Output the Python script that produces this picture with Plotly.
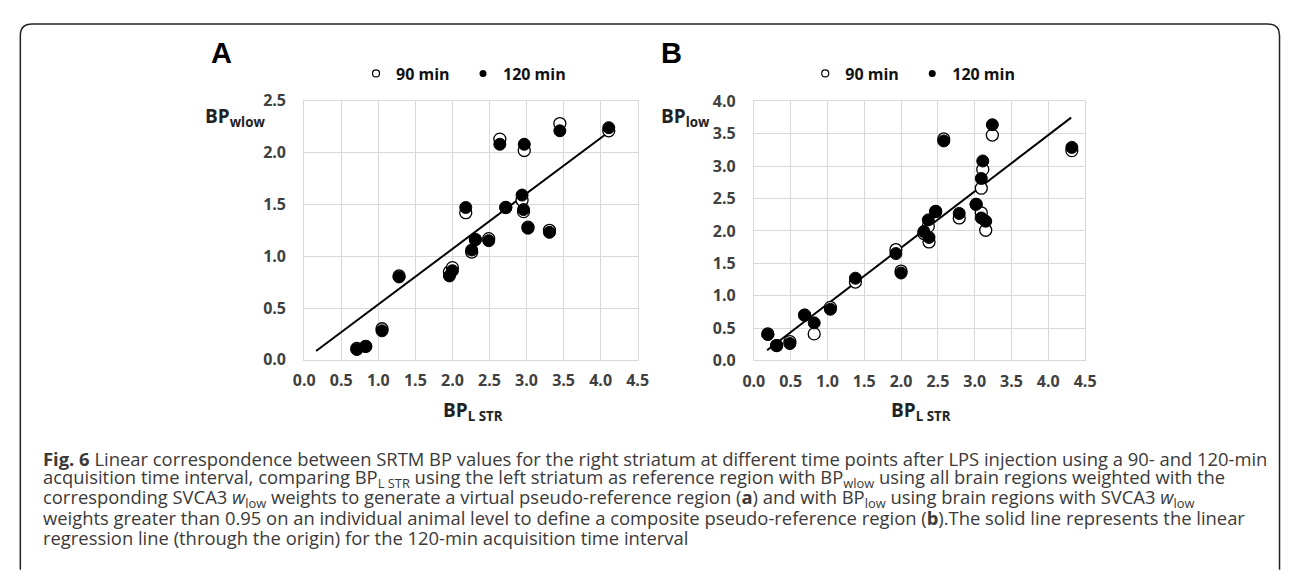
import numpy as np
import plotly.graph_objects as go

W, H = 1292, 576

# ---------------- data ----------------
# Panel A: BP_L STR vs BP_wlow
a_x = [0.71, 0.83, 1.05, 1.28, 1.96, 2.00, 2.18, 2.26, 2.31, 2.49,
       2.64, 2.72, 2.94, 2.96, 2.97, 3.02, 3.31, 3.45, 4.11]
a_y90 = [0.11, 0.13, 0.30, 0.81, 0.85, 0.89, 1.42, 1.04, 1.16, 1.17,
         2.13, 1.47, 1.54, 1.43, 2.02, 1.28, 1.25, 2.28, 2.21]
a_y120 = [0.10, 0.13, 0.28, 0.80, 0.81, 0.86, 1.47, 1.06, 1.16, 1.15,
          2.08, 1.47, 1.59, 1.45, 2.08, 1.27, 1.23, 2.21, 2.24]
a_slope = 0.535
a_line_x = [0.16, 4.11]

# Panel B: BP_L STR vs BP_low
b_x = [0.19, 0.31, 0.49, 0.69, 0.82, 1.04, 1.38, 1.93, 2.00, 2.31, 2.37,
       2.38, 2.47, 2.58, 2.79, 3.02, 3.09, 3.11, 3.09, 3.15, 3.24, 4.32]
b_y90 = [0.41, 0.23, 0.29, 0.70, 0.41, 0.82, 1.21, 1.71, 1.38, 1.96, 2.07,
         1.83, 2.30, 3.42, 2.20, 2.41, 2.66, 2.95, 2.28, 2.01, 3.48, 3.24]
b_y120 = [0.40, 0.23, 0.26, 0.70, 0.58, 0.79, 1.27, 1.65, 1.35, 1.99, 2.17,
          1.90, 2.30, 3.39, 2.27, 2.41, 2.81, 3.08, 2.20, 2.15, 3.64, 3.29]
b_slope = 0.87
b_line_x = [0.18, 4.31]

series_names = ["90 min", "120 min"]
x_ticks = [0.0, 0.5, 1.0, 1.5, 2.0, 2.5, 3.0, 3.5, 4.0, 4.5]

caption_lines = [
    "<b>Fig. 6</b> Linear correspondence between SRTM BP values for the right striatum at different time points after LPS injection using a 90- and 120-min",
    "acquisition time interval, comparing BP<sub>L STR</sub> using the left striatum as reference region with BP<sub>wlow</sub> using all brain regions weighted with the",
    "corresponding SVCA3 <i>w</i><sub>low</sub> weights to generate a virtual pseudo-reference region (<b>a</b>) and with BP<sub>low</sub> using brain regions with SVCA3 <i>w</i><sub>low</sub>",
    "weights greater than 0.95 on an individual animal level to define a composite pseudo-reference region (<b>b</b>).The solid line represents the linear",
    "regression line (through the origin) for the 120-min acquisition time interval",
]

# ---------------- helpers ----------------
def px(x):
    return x / W

def py(y):
    return 1 - y / H

fig = go.Figure()

panels = [
    dict(x=a_x, y90=a_y90, y120=a_y120, slope=a_slope, lx=a_line_x,
         xa="x", ya="y", legend="legend"),
    dict(x=b_x, y90=b_y90, y120=b_y120, slope=b_slope, lx=b_line_x,
         xa="x2", ya="y2", legend="legend2"),
]

for p in panels:
    lx = np.array(p["lx"])
    fig.add_trace(go.Scatter(x=lx, y=p["slope"] * lx, mode="lines",
                             line=dict(color="black", width=2),
                             xaxis=p["xa"], yaxis=p["ya"], showlegend=False,
                             hoverinfo="skip"))
    fig.add_trace(go.Scatter(x=p["x"], y=p["y90"], mode="markers",
                             marker=dict(size=12, color="white",
                                         line=dict(color="black", width=1.3)),
                             xaxis=p["xa"], yaxis=p["ya"], showlegend=False,
                             name=series_names[0]))
    fig.add_trace(go.Scatter(x=p["x"], y=p["y120"], mode="markers",
                             marker=dict(size=12, color="black",
                                         line=dict(color="black", width=1)),
                             xaxis=p["xa"], yaxis=p["ya"], showlegend=False,
                             name=series_names[1]))
    # legend entries (small symbols as in the reference)
    fig.add_trace(go.Scatter(x=[None], y=[None], mode="markers",
                             marker=dict(size=7, color="white",
                                         line=dict(color="black", width=1.2)),
                             xaxis=p["xa"], yaxis=p["ya"], name=series_names[0],
                             legend=p["legend"]))
    fig.add_trace(go.Scatter(x=[None], y=[None], mode="markers",
                             marker=dict(size=7, color="black"),
                             xaxis=p["xa"], yaxis=p["ya"], name=series_names[1],
                             legend=p["legend"]))

tickfont = dict(family="Open Sans", size=16, color="#404040", weight="bold")
grid = "#d9d9d9"

axis_common = dict(showgrid=True, gridcolor=grid, gridwidth=1, zeroline=False,
                   showline=True, linecolor=grid, linewidth=1, mirror=True,
                   ticks="", tickfont=tickfont, tickformat=".1f", fixedrange=True)

legend_font = dict(family="Open Sans", size=16, color="#111", weight="bold")

fig.update_layout(
    width=W, height=H,
    margin=dict(l=0, r=0, t=0, b=0),
    paper_bgcolor="white", plot_bgcolor="white",
    xaxis=dict(domain=[px(298.3), px(637.5)], range=[0, 4.5], tickvals=x_ticks,
               anchor="y", ticklabelstandoff=6, **axis_common),
    yaxis=dict(domain=[py(362.7), py(93.3)], range=[0, 2.5], dtick=0.5,
               anchor="x", ticklabelstandoff=14, **axis_common),
    xaxis2=dict(domain=[px(755.7), px(1092.7)], range=[0, 4.5], tickvals=x_ticks,
                anchor="y2", ticklabelstandoff=6, **axis_common),
    yaxis2=dict(domain=[py(363.3), py(94)], range=[0, 4.0], dtick=0.5,
                anchor="x2", ticklabelstandoff=14, **axis_common),
    legend=dict(orientation="h", x=px(351), y=py(65), xanchor="left", yanchor="middle",
                font=legend_font, bgcolor="rgba(0,0,0,0)", entrywidth=62,
                tracegroupgap=0),
    legend2=dict(orientation="h", x=px(808), y=py(65), xanchor="left", yanchor="middle",
                 font=legend_font, bgcolor="rgba(0,0,0,0)", entrywidth=62,
                 tracegroupgap=0),
    showlegend=True,
)

ann = []
# panel letters
ann.append(dict(text="<b>A</b>", x=px(201), y=py(44), xanchor="left", yanchor="middle",
                font=dict(family="Liberation Sans", size=29, color="black")))
ann.append(dict(text="<b>B</b>", x=px(659), y=py(44), xanchor="left", yanchor="middle",
                font=dict(family="Liberation Sans", size=29, color="black")))
# y-axis titles
ann.append(dict(text="<b>BP<sub>wlow</sub></b>", x=px(195), y=py(110), xanchor="left",
                yanchor="middle", font=dict(family="Open Sans", size=19, color="#222")))
ann.append(dict(text="<b>BP<sub>low</sub></b>", x=px(659), y=py(110), xanchor="left",
                yanchor="middle", font=dict(family="Open Sans", size=19, color="#222")))
# x-axis titles
ann.append(dict(text="<b>BP<sub>L STR</sub></b>", x=px(470), y=py(416), xanchor="center",
                yanchor="middle", font=dict(family="Open Sans", size=19, color="#222")))
ann.append(dict(text="<b>BP<sub>L STR</sub></b>", x=px(926), y=py(416), xanchor="center",
                yanchor="middle", font=dict(family="Open Sans", size=19, color="#222")))
# caption
for i, line in enumerate(caption_lines):
    ann.append(dict(text=line, x=px(31), y=py(465 + i * 20.7), xanchor="left",
                    yanchor="middle",
                    font=dict(family="Open Sans", size=18.4, color="#3a3a3a")))

for a in ann:
    a.update(xref="paper", yref="paper", showarrow=False)
fig.update_layout(annotations=ann)

# rounded frame (open at the bottom)
L, T, R, r = 9.5, 13.5, 1290.5, 12
path = (f"M {px(L)} {py(H + 5)} L {px(L)} {py(T + r)} Q {px(L)} {py(T)} {px(L + r)} {py(T)} "
        f"L {px(R - r)} {py(T)} Q {px(R)} {py(T)} {px(R)} {py(T + r)} L {px(R)} {py(H + 5)}")
fig.add_shape(type="path", path=path, xref="paper", yref="paper",
              line=dict(color="#222", width=1.5))

fig.write_html("out.html",
               config={"displayModeBar": False, "staticPlot": True},
               post_script="document.body.style.margin='0';document.body.style.overflow='hidden';")
